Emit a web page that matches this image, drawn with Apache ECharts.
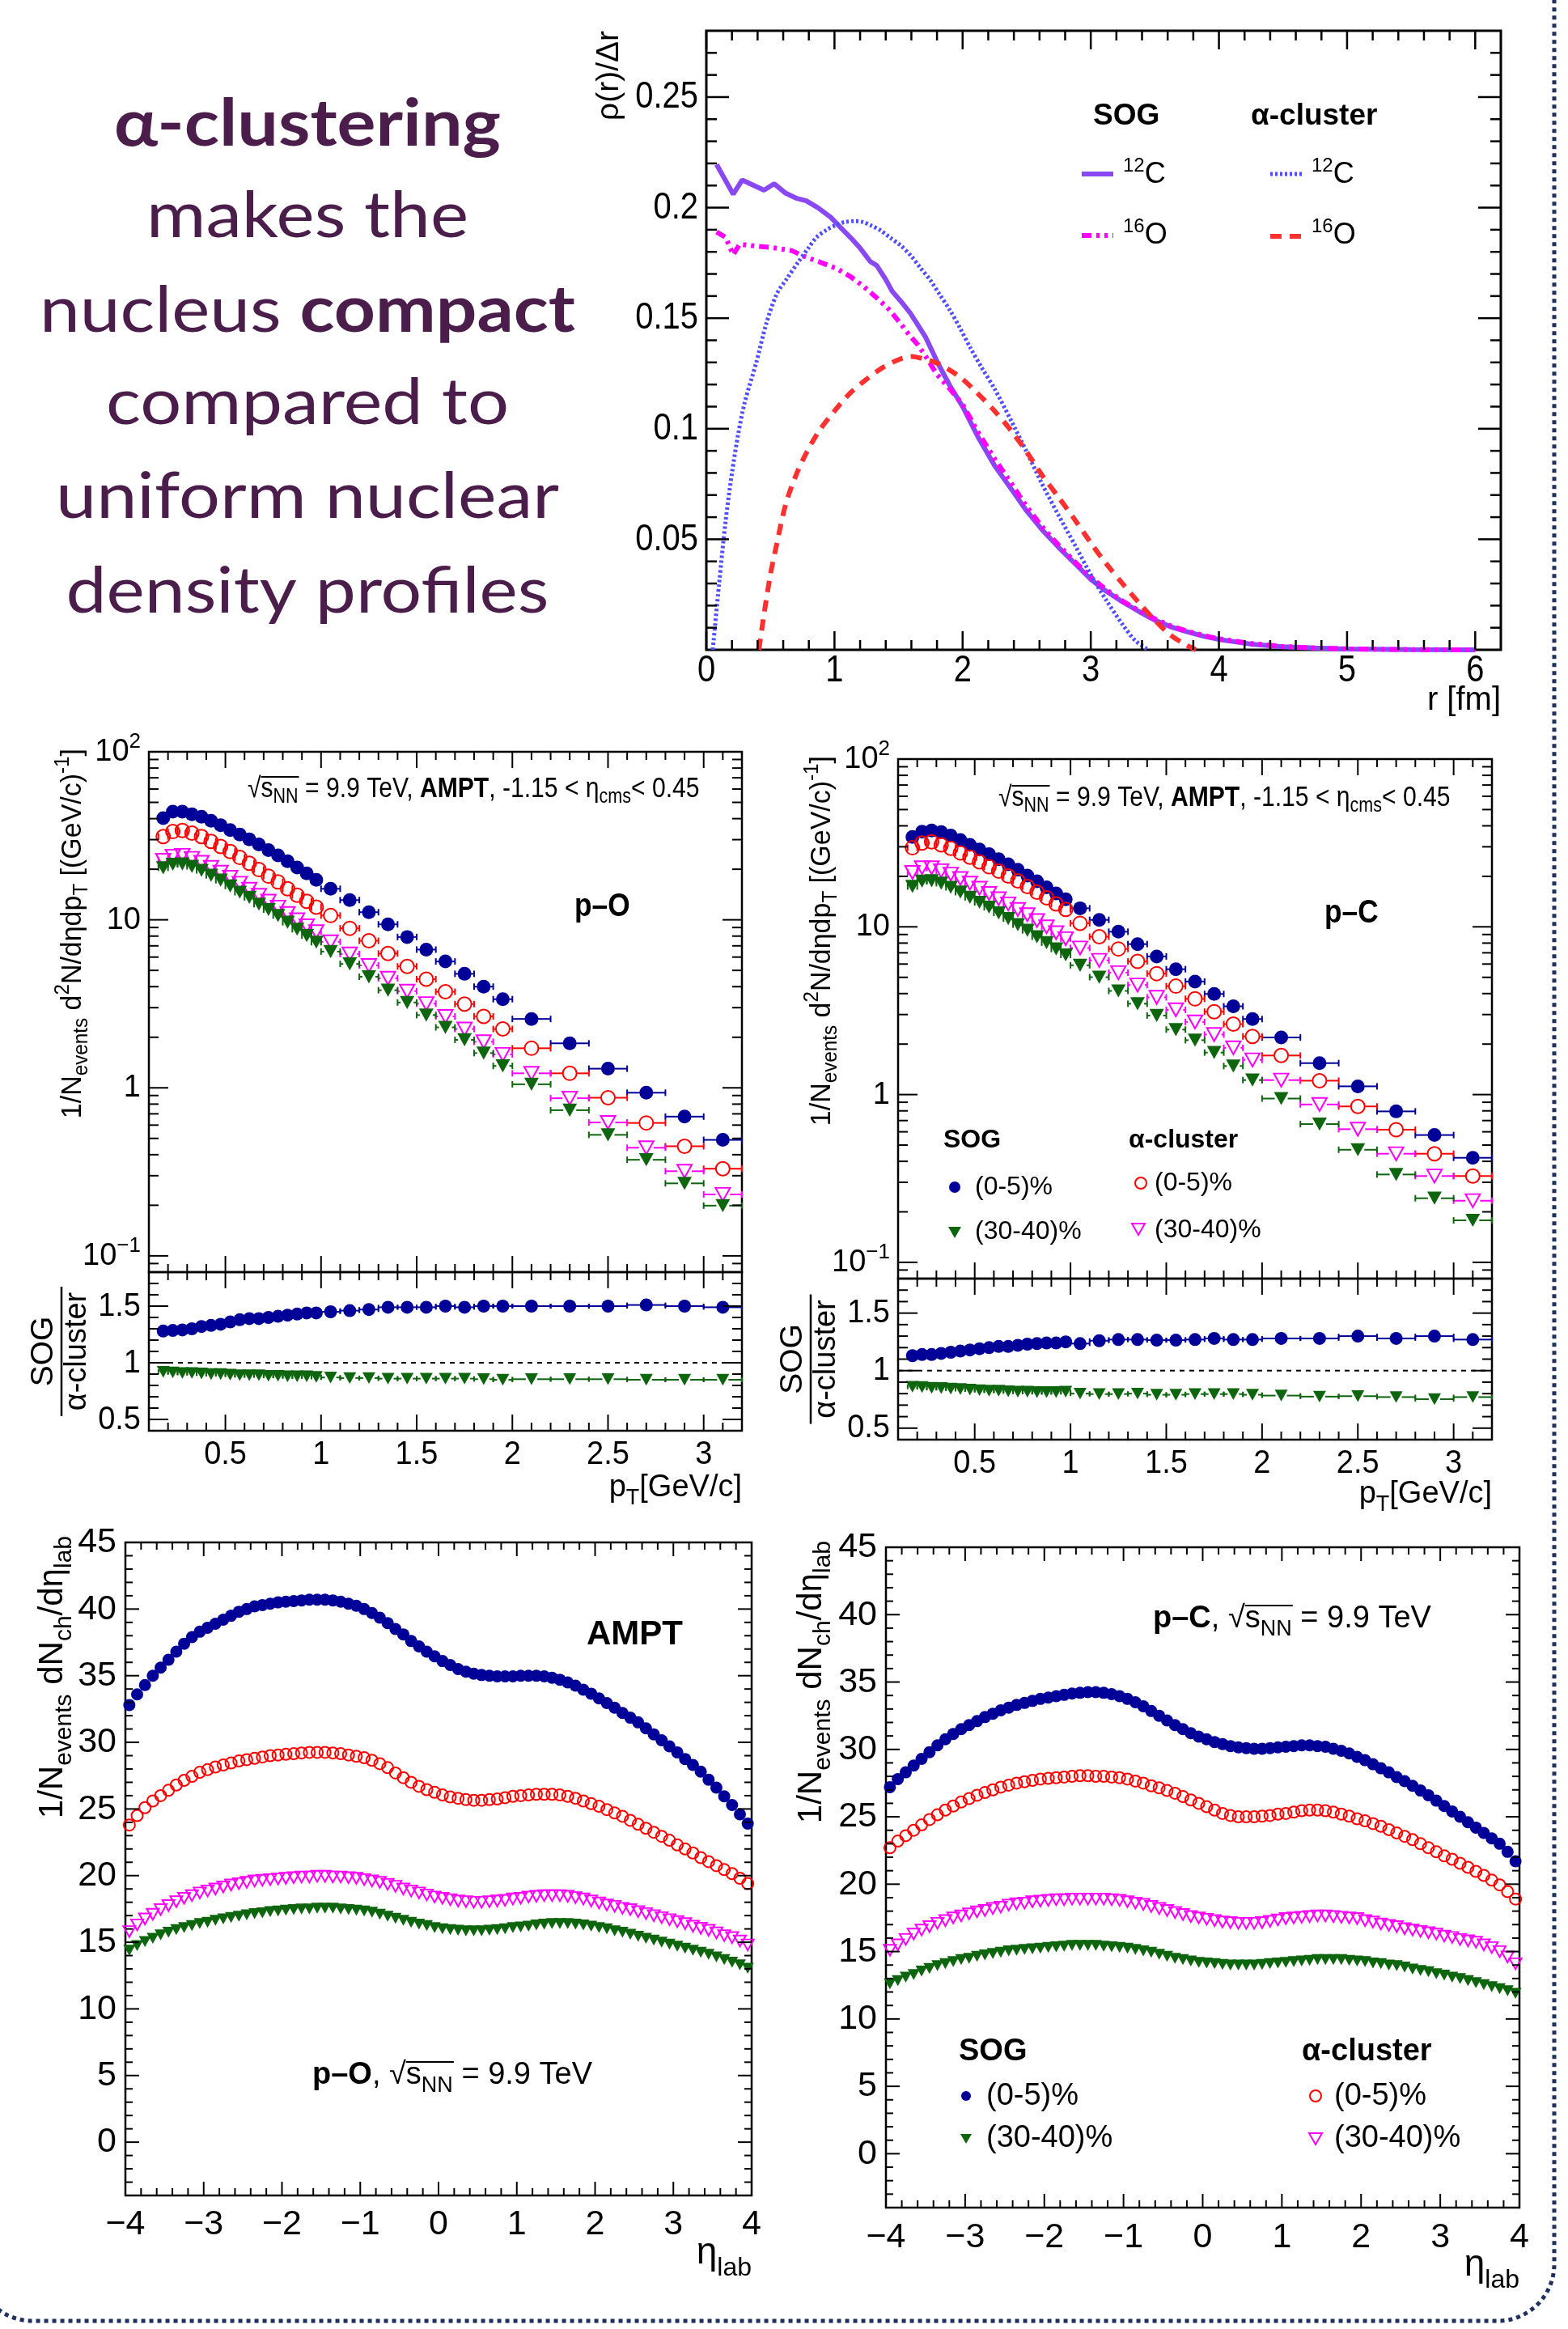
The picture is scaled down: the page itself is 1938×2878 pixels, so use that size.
<!DOCTYPE html>
<html><head><meta charset="utf-8">
<script src="https://cdn.jsdelivr.net/npm/echarts@6/dist/echarts.min.js"></script>
<style>html,body{margin:0;padding:0;background:#fff;}#chart{width:1938px;height:2878px;}</style>
</head><body><div id="chart"></div>
<script>
// ================= DATA =================
// --- Panel 1: radial density rho(r)/dr ---
const rSOG12C = [0.08,0.21,0.28,0.45,0.53,0.62,0.7,0.78,0.87,0.97,1.06,1.13,1.2,1.28,1.33,1.4,1.45,1.52,1.59,1.65,1.71,1.81,1.9,2.0,2.12,2.25,2.38,2.5,2.62,2.75,2.88,3.0,3.12,3.25,3.38,3.5,3.62,3.75,3.88,4.0,4.25,4.5,4.75,5.0,5.5,6.0];
const rhoSOG12C = [0.2195,0.2061,0.2125,0.2079,0.2108,0.2065,0.2043,0.2031,0.2000,0.1957,0.1903,0.1862,0.1817,0.1756,0.1738,0.1675,0.1622,0.1575,0.1524,0.1470,0.1415,0.1293,0.1195,0.1100,0.0963,0.0833,0.0727,0.0628,0.0543,0.0463,0.0388,0.0319,0.0265,0.0216,0.0172,0.0134,0.0105,0.0082,0.0062,0.0047,0.0026,0.0014,0.0008,0.0004,0.0001,0.0];
const rSOG16O = [0.08,0.15,0.21,0.26,0.4,0.5,0.6,0.67,0.76,0.88,1.01,1.12,1.22,1.32,1.43,1.51,1.58,1.65,1.71,1.8,1.9,2.0,2.12,2.25,2.38,2.5,2.62,2.75,2.88,3.0,3.12,3.25,3.38,3.5,3.62,3.75,3.88,4.0,4.25,4.5,4.75,5.0,5.5,6.0];
const rhoSOG16O = [0.189,0.1866,0.1787,0.1835,0.1825,0.182,0.1812,0.1805,0.178,0.1755,0.1726,0.169,0.1647,0.1597,0.1537,0.148,0.1427,0.138,0.1329,0.1245,0.118,0.111,0.0985,0.0864,0.0752,0.0648,0.0557,0.0473,0.0396,0.0329,0.0272,0.022,0.0176,0.014,0.0109,0.0085,0.0065,0.005,0.0029,0.0015,0.0008,0.0004,0.0001,0.0];
const rALPHA12C = [0.05,0.1,0.15,0.2,0.25,0.3,0.39,0.47,0.55,0.63,0.72,0.8,0.86,0.94,1.01,1.08,1.16,1.22,1.28,1.36,1.43,1.52,1.6,1.67,1.75,1.82,1.9,1.98,2.06,2.15,2.25,2.38,2.5,2.62,2.75,2.88,3.0,3.12,3.25,3.35,3.45];
const rhoALPHA12C = [0.0,0.030,0.058,0.080,0.098,0.112,0.130,0.148,0.161,0.168,0.1756,0.182,0.1866,0.190,0.1921,0.1935,0.1939,0.1935,0.1921,0.1897,0.1866,0.1827,0.178,0.1728,0.167,0.1608,0.1537,0.1455,0.1366,0.1275,0.118,0.1035,0.0895,0.075,0.0607,0.047,0.034,0.0225,0.0113,0.004,0.0];
const rALPHA16O = [0.41,0.45,0.5,0.55,0.62,0.7,0.78,0.88,1.0,1.12,1.25,1.38,1.5,1.6,1.7,1.8,1.9,2.0,2.12,2.25,2.38,2.5,2.62,2.75,2.88,3.0,3.12,3.25,3.38,3.5,3.62,3.75,3.82];
const rhoALPHA16O = [0.0,0.016,0.034,0.048,0.066,0.079,0.089,0.099,0.108,0.116,0.1224,0.1278,0.1312,0.1327,0.1315,0.1297,0.1265,0.1224,0.1158,0.108,0.099,0.0895,0.079,0.0689,0.0585,0.0484,0.039,0.0298,0.021,0.0134,0.0068,0.002,0.0];

// --- Panels 2/3: pT spectra (bin edges) ---
const ptEdges = [0.15,0.2,0.25,0.3,0.35,0.4,0.45,0.5,0.55,0.6,0.65,0.7,0.75,0.8,0.85,0.9,0.95,1.0,1.1,1.2,1.3,1.4,1.5,1.6,1.7,1.8,1.9,2.0,2.2,2.4,2.6,2.8,3.0,3.2];
const pO_SOG_0_5   = [40.3,44.0,44.0,42.5,41.1,38.9,36.6,34.2,32.2,30.1,28.1,26.0,24.2,22.3,20.5,18.9,17.3,15.3,13.1,11.1,9.4,7.9,6.65,5.65,4.77,4.0,3.37,2.57,1.84,1.30,0.935,0.674,0.490];
const pO_ALPHA_0_5 = [31.3,33.5,34.0,32.8,31.3,29.3,27.3,25.5,23.5,21.7,19.9,18.2,16.8,15.3,14.0,12.9,11.9,10.6,8.9,7.5,6.3,5.28,4.43,3.73,3.15,2.66,2.24,1.72,1.22,0.873,0.618,0.449,0.330];
const pO_SOG_30_40   = [20.4,21.4,21.5,20.8,19.7,18.4,17.2,15.9,14.6,13.6,12.4,11.5,10.6,9.67,8.79,8.05,7.36,6.47,5.46,4.58,3.81,3.22,2.71,2.29,1.93,1.61,1.35,1.05,0.736,0.525,0.373,0.270,0.199];
const pO_ALPHA_30_40 = [22.6,23.9,24.2,23.2,22.0,20.5,19.2,17.9,16.5,15.2,14.0,12.9,11.9,10.9,10.0,9.2,8.5,7.4,6.26,5.35,4.49,3.76,3.17,2.66,2.24,1.88,1.58,1.22,0.867,0.622,0.440,0.319,0.232];
const pO_RATIO_0_5   = [1.28,1.285,1.29,1.30,1.32,1.33,1.34,1.36,1.38,1.39,1.39,1.40,1.41,1.42,1.43,1.44,1.44,1.45,1.46,1.47,1.49,1.49,1.49,1.50,1.49,1.50,1.50,1.50,1.50,1.50,1.51,1.50,1.49];
const pO_RATIO_30_40 = [0.92,0.915,0.91,0.91,0.905,0.90,0.90,0.895,0.89,0.89,0.89,0.885,0.885,0.88,0.88,0.88,0.875,0.87,0.865,0.865,0.86,0.86,0.86,0.86,0.86,0.855,0.85,0.855,0.855,0.855,0.85,0.85,0.85];
const pC_SOG_0_5   = [34.3,36.9,37.5,36.7,35.0,32.9,30.8,28.9,27.1,25.3,23.6,21.9,20.2,18.7,17.2,15.8,14.6,12.9,11.0,9.35,7.89,6.66,5.59,4.72,3.98,3.36,2.82,2.19,1.54,1.12,0.794,0.574,0.42];
const pC_ALPHA_0_5 = [29.6,31.6,32.1,30.8,29.4,27.6,26.0,24.4,22.8,21.5,20.1,18.8,17.4,16.1,14.9,13.7,12.7,10.5,8.73,7.38,6.22,5.26,4.43,3.72,3.12,2.63,2.22,1.71,1.21,0.85,0.618,0.444,0.327];
const pC_SOG_30_40   = [17.4,18.7,18.8,18.2,17.2,16.1,15.0,14.0,13.1,12.1,11.2,10.3,9.53,8.73,8.05,7.38,6.80,5.90,5.01,4.15,3.48,2.96,2.44,2.11,1.78,1.48,1.22,0.947,0.667,0.469,0.334,0.241,0.178];
const pC_ALPHA_30_40 = [21.1,22.5,22.5,21.6,20.6,19.4,18.2,17.0,15.8,14.7,13.7,12.7,11.8,10.9,10.0,9.22,8.50,7.48,6.31,5.33,4.50,3.80,3.20,2.71,2.28,1.90,1.61,1.22,0.873,0.622,0.444,0.327,0.233];
const pC_RATIO_0_5   = [1.13,1.14,1.14,1.15,1.16,1.17,1.18,1.19,1.20,1.21,1.21,1.22,1.23,1.235,1.24,1.24,1.25,1.235,1.26,1.27,1.27,1.265,1.265,1.27,1.28,1.27,1.27,1.28,1.28,1.30,1.28,1.30,1.27];
const pC_RATIO_30_40 = [0.86,0.857,0.85,0.848,0.843,0.84,0.835,0.83,0.826,0.826,0.82,0.817,0.817,0.813,0.813,0.813,0.817,0.80,0.796,0.796,0.80,0.79,0.79,0.796,0.796,0.796,0.79,0.783,0.774,0.778,0.77,0.752,0.77];

// --- Panels 4/5: dNch/deta ---
const etaC = [-3.95,-3.85,-3.75,-3.65,-3.55,-3.45,-3.35,-3.25,-3.15,-3.05,-2.95,-2.85,-2.75,-2.65,-2.55,-2.45,-2.35,-2.25,-2.15,-2.05,-1.95,-1.85,-1.75,-1.65,-1.55,-1.45,-1.35,-1.25,-1.15,-1.05,-0.95,-0.85,-0.75,-0.65,-0.55,-0.45,-0.35,-0.25,-0.15,-0.05,0.05,0.15,0.25,0.35,0.45,0.55,0.65,0.75,0.85,0.95,1.05,1.15,1.25,1.35,1.45,1.55,1.65,1.75,1.85,1.95,2.05,2.15,2.25,2.35,2.45,2.55,2.65,2.75,2.85,2.95,3.05,3.15,3.25,3.35,3.45,3.55,3.65,3.75,3.85,3.95];
const pOeta_SOG_0_5 = [32.8,33.6,34.3,35.0,35.6,36.2,36.8,37.4,37.9,38.3, 38.6,38.9,39.2,39.5,39.8,40.0,40.2,40.3,40.4,40.5, 40.55,40.6,40.65,40.7,40.7,40.7,40.65,40.55,40.4,40.25, 40.0,39.7,39.35,38.95,38.5,38.1,37.6,37.2,36.8,36.45, 36.1,35.8,35.5,35.3,35.15,35.05,35.0,34.95,34.95,34.95, 35.0,35.0,35.0,34.95,34.85,34.7,34.5,34.25,33.95,33.65, 33.3,32.95,32.6,32.2,31.85,31.5,31.05,30.6,30.15,29.7, 29.25,28.75,28.3,27.8,27.2,26.6,25.95,25.3,24.6,23.9];
const pOeta_ALPHA_0_5 = [23.8,24.5,25.1,25.6,26.0,26.4,26.8,27.15,27.45,27.75, 27.95,28.15,28.3,28.45,28.6,28.7,28.8,28.9,29.0,29.05, 29.1,29.15,29.2,29.25,29.25,29.25,29.2,29.15,29.05,28.95, 28.85,28.65,28.4,28.1,27.7,27.35,27.0,26.7,26.45,26.25, 26.05,25.9,25.8,25.7,25.65,25.65,25.7,25.75,25.85,25.95, 26.0,26.05,26.1,26.1,26.1,26.05,25.95,25.8,25.6,25.4, 25.2,24.95,24.7,24.45,24.15,23.85,23.55,23.25,22.95,22.65, 22.3,22.0,21.7,21.35,21.05,20.75,20.45,20.15,19.8,19.4];
const pOeta_ALPHA_30_40 = [15.8,16.3,16.75,17.1,17.45,17.75,18.05,18.3,18.5,18.7, 18.85,19.0,19.15,19.3,19.4,19.5,19.6,19.65,19.7,19.75, 19.8,19.85,19.9,19.9,19.95,19.95,19.9,19.9,19.85,19.8, 19.7,19.6,19.5,19.35,19.2,19.0,18.85,18.7,18.55,18.4, 18.3,18.2,18.1,18.05,18.0,18.0,18.05,18.1,18.15,18.25, 18.3,18.4,18.45,18.5,18.5,18.5,18.45,18.35,18.25,18.1, 17.95,17.8,17.7,17.55,17.45,17.3,17.15,17.0,16.85,16.7, 16.55,16.4,16.2,16.05,15.9,15.7,15.5,15.35,15.1,14.8];
const pOeta_SOG_30_40 = [14.4,14.75,15.05,15.3,15.55,15.75,15.95,16.1,16.25,16.4, 16.5,16.65,16.75,16.85,16.95,17.05,17.15,17.2,17.3,17.35, 17.4,17.45,17.5,17.5,17.55,17.55,17.55,17.5,17.45,17.4, 17.35,17.25,17.1,16.95,16.8,16.65,16.5,16.35,16.25,16.1, 16.0,15.95,15.9,15.85,15.85,15.85,15.9,15.95,16.0,16.1, 16.15,16.2,16.3,16.35,16.4,16.4,16.4,16.35,16.3,16.2, 16.1,16.0,15.85,15.75,15.6,15.45,15.3,15.15,15.0,14.85, 14.7,14.55,14.4,14.25,14.1,13.9,13.7,13.5,13.3,13.05];
const pCeta_SOG_0_5 = [27.2,27.8,28.3,28.8,29.3,29.8,30.3,30.75,31.15,31.5, 31.8,32.1,32.4,32.65,32.9,33.1,33.3,33.45,33.6,33.75, 33.85,33.95,34.05,34.15,34.2,34.25,34.25,34.2,34.1,33.95, 33.75,33.5,33.2,32.85,32.5,32.15,31.8,31.5,31.2,30.95, 30.75,30.55,30.4,30.25,30.15,30.1,30.05,30.05,30.1,30.15, 30.2,30.25,30.3,30.3,30.25,30.2,30.05,29.9,29.7,29.45, 29.2,28.9,28.6,28.3,27.95,27.65,27.3,26.95,26.6,26.2, 25.8,25.4,25.0,24.6,24.2,23.8,23.4,23.0,22.4,21.7];
const pCeta_ALPHA_0_5 = [22.7,23.2,23.6,24.0,24.4,24.8,25.15,25.5,25.8,26.1, 26.35,26.6,26.8,27.0,27.2,27.35,27.5,27.6,27.7,27.8, 27.85,27.9,27.95,28.0,28.05,28.05,28.0,28.0,27.95,27.9, 27.8,27.65,27.5,27.3,27.15,26.95,26.75,26.5,26.25,26.0, 25.75,25.5,25.25,25.1,25.0,25.0,25.0,25.05,25.1,25.2, 25.25,25.35,25.45,25.5,25.5,25.45,25.35,25.2,25.05,24.85, 24.7,24.5,24.3,24.05,23.8,23.55,23.3,23.0,22.7,22.4, 22.1,21.85,21.55,21.25,20.95,20.65,20.3,19.95,19.45,18.9];
const pCeta_ALPHA_30_40 = [15.1,15.5,15.9,16.3,16.6,16.85,17.1,17.3,17.5,17.65, 17.8,17.95,18.05,18.2,18.3,18.45,18.55,18.6,18.7,18.75, 18.8,18.85,18.85,18.9,18.9,18.9,18.9,18.9,18.85,18.8, 18.7,18.6,18.5,18.35,18.2,18.05,17.9,17.75,17.6,17.5, 17.4,17.3,17.2,17.15,17.1,17.1,17.1,17.15,17.25,17.35, 17.45,17.5,17.55,17.6,17.65,17.65,17.6,17.55,17.5,17.45, 17.3,17.2,17.05,16.95,16.85,16.7,16.6,16.5,16.4,16.3, 16.15,16.05,15.9,15.8,15.7,15.5,15.3,15.0,14.6,14.1];
const pCeta_SOG_30_40 = [12.6,12.85,13.1,13.3,13.55,13.75,13.95,14.1,14.25,14.4, 14.5,14.65,14.75,14.85,14.95,15.05,15.1,15.15,15.2,15.25, 15.3,15.35,15.4,15.45,15.45,15.45,15.45,15.4,15.35,15.3, 15.25,15.15,15.05,14.95,14.8,14.65,14.5,14.4,14.3,14.2, 14.15,14.1,14.05,14.0,14.0,14.0,14.0,14.05,14.1,14.15, 14.2,14.25,14.3,14.35,14.4,14.4,14.4,14.4,14.35,14.3, 14.25,14.15,14.1,14.0,13.95,13.85,13.7,13.6,13.5,13.35, 13.25,13.1,13.0,12.85,12.7,12.55,12.4,12.25,12.1,11.9];

// --- tick values / labels ---
const rhoXTicks = [0,1,2,3,4,5,6];          const rhoXLabels = ['0','1','2','3','4','5','6'];
const rhoYTicks = [0.05,0.1,0.15,0.2,0.25]; const rhoYLabels = ['0.05','0.1','0.15','0.2','0.25'];
const ptTicks = [0.5,1,1.5,2,2.5,3];        const ptLabels = ['0.5','1','1.5','2','2.5','3'];
const logTicks = [0.1,1,10,100];            const logLabels = [['10','\u22121'],['1',''],['10',''],['10','2']];
const logMinorTicks = [0.09,0.2,0.3,0.4,0.5,0.6,0.7,0.8,0.9,2,3,4,5,6,7,8,9,20,30,40,50,60,70,80,90];
const ratioTicks = [0.5,1,1.5];             const ratioLabels = ['0.5','1','1.5'];
const ratioMinorTicks = [0.6,0.7,0.8,0.9,1.1,1.2,1.3,1.4,1.6,1.7];
const etaTicks = [-4,-3,-2,-1,0,1,2,3,4];   const etaLabels = ['\u22124','\u22123','\u22122','\u22121','0','1','2','3','4'];
const dnTicks = [0,5,10,15,20,25,30,35,40,45]; const dnLabels = ['0','5','10','15','20','25','30','35','40','45'];

// ================= HELPERS =================
const FONT = "'Liberation Sans', Arial, Helvetica, sans-serif";
const KMID = 0.3465;
const mctx = document.createElement('canvas').getContext('2d');
function tw(t, size, weight, fam) { mctx.font = weight + ' ' + size + 'px ' + fam; return mctx.measureText(t).width; }
function sg(t, s, o) { return Object.assign({ t: t, s: s }, o || {}); }
function rtext(segs, o) {
  const fam = o.fam || FONT;
  let x = 0; const kids = [];
  segs.forEach(g => {
    if (!g.t) return;
    const wt = g.b ? 'bold' : 'normal';
    const w = tw(g.t, g.s, wt, fam);
    kids.push({ type: 'text', x: x, y: (g.dy || 0) - KMID * g.s, silent: true,
      style: { text: g.t, font: wt + ' ' + g.s + 'px ' + fam, fill: g.c || o.color || '#000', align: 'left', verticalAlign: 'middle' } });
    if (g.ol) kids.push({ type: 'line', silent: true, shape: { x1: x, y1: -g.ol, x2: x + w + 1, y2: -g.ol }, style: { stroke: o.color || '#000', lineWidth: 2 } });
    x += w;
  });
  const off = o.align === 'center' ? -x / 2 : (o.align === 'right' ? -x : 0);
  kids.forEach(k => { if (k.type === 'text') k.x += off; else { k.shape.x1 += off; k.shape.x2 += off; } });
  return { type: 'group', x: o.x, y: o.y, rotation: o.rot || 0, scaleX: o.sx || 1, scaleY: o.sy || 1, children: kids, silent: true, z: 50 };
}
function steps(a, b, st, skipEvery) {
  const out = [];
  for (let i = 0; a + i * st <= b + 1e-9; i++) {
    const v = Math.round((a + i * st) * 1e6) / 1e6;
    if (skipEvery && Math.abs(v / skipEvery - Math.round(v / skipEvery)) < 1e-6) continue;
    out.push(v);
  }
  return out;
}
function decor(sp) {
  return {
    type: 'custom', xAxisIndex: sp.ax, yAxisIndex: sp.ax, silent: true, clip: false, z: 20,
    data: [[sp.x0, sp.y0]],
    renderItem: function (params, api) {
      const cs = params.coordSys;
      const L = cs.x, R = cs.x + cs.width, T = cs.y, B = cs.y + cs.height;
      const kids = [];
      const st = { stroke: '#000', lineWidth: sp.lw || 2 };
      const ln = (x1, y1, x2, y2) => kids.push({ type: 'line', shape: { x1: x1, y1: y1, x2: x2, y2: y2 }, style: st });
      const X = v => api.coord([v, sp.y0])[0];
      const Y = v => api.coord([sp.x0, v])[1];
      sp.xMaj.forEach(v => { const p = X(v); ln(p, B, p, B - sp.xL[0]); ln(p, T, p, T + sp.xL[0]); });
      sp.xMin.forEach(v => { const p = X(v); ln(p, B, p, B - sp.xL[1]); ln(p, T, p, T + sp.xL[1]); });
      sp.yMaj.forEach(v => { const p = Y(v); ln(L, p, L + sp.yL[0], p); ln(R, p, R - sp.yL[0], p); });
      sp.yMin.forEach(v => { const p = Y(v); ln(L, p, L + sp.yL[1], p); ln(R, p, R - sp.yL[1], p); });
      if (sp.xLab) sp.xLab.forEach(([v, segs]) => kids.push(rtext(segs, { x: X(v), y: B + sp.xOff, align: 'center', sy: sp.sy })));
      if (sp.yLab) sp.yLab.forEach(([v, segs]) => kids.push(rtext(segs, { x: L - sp.yOff, y: Y(v) + sp.ySh, align: 'right', sy: sp.sy })));
      return { type: 'group', children: kids };
    }
  };
}
function errBars(ax, xs, ys, lo, hi, color, half, cap) {
  return {
    type: 'custom', xAxisIndex: ax, yAxisIndex: ax, silent: true, z: 3,
    data: ys.map((y, i) => [xs[i], y, lo[i], hi[i]]),
    renderItem: function (params, api) {
      const c = api.coord([api.value(0), api.value(1)]);
      const l = api.coord([api.value(2), api.value(1)])[0];
      const h = api.coord([api.value(3), api.value(1)])[0];
      const st = { stroke: color, lineWidth: 2 };
      const k = [];
      if (c[0] - half > l) k.push({ type: 'line', shape: { x1: l, y1: c[1], x2: c[0] - half, y2: c[1] }, style: st });
      if (c[0] + half < h) k.push({ type: 'line', shape: { x1: c[0] + half, y1: c[1], x2: h, y2: c[1] }, style: st });
      k.push({ type: 'line', shape: { x1: l, y1: c[1] - cap, x2: l, y2: c[1] + cap }, style: st });
      k.push({ type: 'line', shape: { x1: h, y1: c[1] - cap, x2: h, y2: c[1] + cap }, style: st });
      return { type: 'group', children: k };
    }
  };
}
function marks(ax, xs, ys, kind, size, color) {
  const open = kind === 'oc' || kind === 'ot';
  const tri = kind === 'ft' || kind === 'ot';
  return {
    type: 'scatter', xAxisIndex: ax, yAxisIndex: ax, silent: true, z: 4,
    symbol: tri ? 'triangle' : 'circle', symbolRotate: tri ? 180 : 0,
    symbolSize: tri ? [size, size * 0.9] : size,
    data: xs.map((x, i) => [x, ys[i]]),
    itemStyle: open ? { color: 'rgba(255,255,255,0)', borderColor: color, borderWidth: 2, opacity: 1 } : { color: color, opacity: 1, borderWidth: 0 }
  };
}
function curve(xs, ys, color, width, dash, smooth) {
  return { type: 'line', xAxisIndex: 0, yAxisIndex: 0, silent: true, showSymbol: false, symbol: 'none', smooth: smooth || false, z: 3,
    data: xs.map((x, i) => [x, ys[i]]), lineStyle: { color: color, width: width, type: dash || 'solid', cap: 'butt' } };
}

// ================= COLORS =================
const C_SOG12 = '#8a48f2', C_A12 = '#4f4fff', C_SOG16 = '#ff00ff', C_A16 = '#ff3030';
const NAVY = '#000099', RED = '#ff0000', MAG = '#ff00ff', GRN = '#0d650d';
const TXT = '#4b1d4b';

// ================= BUILD =================
const ptC = ptEdges.slice(0, -1).map((e, i) => (e + ptEdges[i + 1]) / 2);
const ptLo = ptEdges.slice(0, -1), ptHi = ptEdges.slice(1);

const grids = [
  { left: 873, top: 38, width: 982, height: 765 },
  { left: 184, top: 929, width: 733, height: 643 },
  { left: 184, top: 1572, width: 733, height: 196 },
  { left: 1110, top: 938, width: 734, height: 642 },
  { left: 1110, top: 1580, width: 734, height: 199 },
  { left: 155, top: 1906, width: 774, height: 807 },
  { left: 1095, top: 1912, width: 783, height: 816 }
].map((g, i) => Object.assign({ show: true, borderColor: '#000', borderWidth: i === 0 ? 3 : 2.5, backgroundColor: 'rgba(0,0,0,0)', containLabel: false }, g));

const xAxes = [[0, 6.2], [0.1, 3.2], [0.1, 3.2], [0.1, 3.2], [0.1, 3.2], [-4, 4], [-4, 4]]
  .map((m, i) => ({ type: 'value', gridIndex: i, min: m[0], max: m[1], show: false }));
const yAxes = [
  { type: 'value', min: 0, max: 0.28 },
  { type: 'log', logBase: 10, min: 0.08, max: 100 },
  { type: 'value', min: 0.4, max: 1.8 },
  { type: 'log', logBase: 10, min: 0.08, max: 100 },
  { type: 'value', min: 0.4, max: 1.8 },
  { type: 'value', min: -4, max: 45 },
  { type: 'value', min: -4, max: 45 }
].map((a, i) => Object.assign({ gridIndex: i, show: false }, a));

const lab = (vals, labs, size) => vals.map((v, i) => [v, [sg(labs[i], size)]]);
const logLab = logTicks.map((v, i) => [v, [sg(logLabels[i][0], 38), sg(logLabels[i][1], 26, { dy: -17 })]]);

const series = [];
// panel 1 curves
series.push(curve(rSOG12C, rhoSOG12C, C_SOG12, 6, 'solid'));
series.push(curve(rSOG16O, rhoSOG16O, C_SOG16, 6, [12, 6, 4, 6, 4, 6]));
series.push(curve(rALPHA12C, rhoALPHA12C, C_A12, 5, [3, 3], 0.3));
series.push(curve(rALPHA16O, rhoALPHA16O, C_A16, 6, [14, 10], 0.3));
series.push(decor({ ax: 0, x0: 0, y0: 0, xMaj: rhoXTicks, xMin: steps(0.2, 6.0, 0.2, 1), xL: [23, 12],
  yMaj: rhoYTicks, yMin: steps(0.01, 0.27, 0.01, 0.05), yL: [28, 13], lw: 2.5,
  xLab: lab(rhoXTicks, rhoXLabels, 40), xOff: 42, yLab: lab(rhoYTicks, rhoYLabels, 40), yOff: 10, ySh: 16.5, sy: 1.15 }));

// pT panels
function ptPanel(axM, axR, s05, a05, s3040, a3040, r05, r3040) {
  series.push(errBars(axM, ptC, s05, ptLo, ptHi, NAVY, 8, 4));
  series.push(errBars(axM, ptC, a05, ptLo, ptHi, RED, 9, 4));
  series.push(errBars(axM, ptC, a3040, ptLo, ptHi, MAG, 9, 4));
  series.push(errBars(axM, ptC, s3040, ptLo, ptHi, GRN, 8, 4));
  series.push(marks(axM, ptC, s05, 'fc', 17, NAVY));
  series.push(marks(axM, ptC, a05, 'oc', 17, RED));
  series.push(marks(axM, ptC, a3040, 'ot', 18, MAG));
  series.push(marks(axM, ptC, s3040, 'ft', 18, GRN));
  series.push({ type: 'line', xAxisIndex: axR, yAxisIndex: axR, silent: true, symbol: 'none', z: 2,
    data: [[0.1, 1], [3.2, 1]], lineStyle: { color: '#000', width: 2, type: [6, 6] } });
  series.push(errBars(axR, ptC, r05, ptLo, ptHi, NAVY, 7, 3));
  series.push(errBars(axR, ptC, r3040, ptLo, ptHi, GRN, 7, 3));
  series.push(marks(axR, ptC, r05, 'fc', 16, NAVY));
  series.push(marks(axR, ptC, r3040, 'ft', 16, GRN));
  series.push(decor({ ax: axM, x0: 0.1, y0: 0.08, xMaj: ptTicks, xMin: steps(0.2, 3.1, 0.1, 0.5), xL: [20, 10],
    yMaj: logTicks, yMin: logMinorTicks, yL: [24, 12], yLab: logLab, yOff: 10, ySh: 13.6, sy: 1 }));
  series.push(decor({ ax: axR, x0: 0.1, y0: 0.4, xMaj: ptTicks, xMin: steps(0.2, 3.1, 0.1, 0.5), xL: [20, 10],
    yMaj: ratioTicks, yMin: ratioMinorTicks, yL: [24, 12], xLab: lab(ptTicks, ptLabels, 38), xOff: 44,
    yLab: lab(ratioTicks, ratioLabels, 38), yOff: 10, ySh: 14.5, sy: 1.08 }));
}
ptPanel(1, 2, pO_SOG_0_5, pO_ALPHA_0_5, pO_SOG_30_40, pO_ALPHA_30_40, pO_RATIO_0_5, pO_RATIO_30_40);
ptPanel(3, 4, pC_SOG_0_5, pC_ALPHA_0_5, pC_SOG_30_40, pC_ALPHA_30_40, pC_RATIO_0_5, pC_RATIO_30_40);

// eta panels
function etaPanel(ax, s05, a05, s3040, a3040, xOff) {
  series.push(marks(ax, etaC, s05, 'fc', 15, NAVY));
  series.push(marks(ax, etaC, a05, 'oc', 14, RED));
  series.push(marks(ax, etaC, a3040, 'ot', 15, MAG));
  series.push(marks(ax, etaC, s3040, 'ft', 15, GRN));
  series.push(decor({ ax: ax, x0: -4, y0: 0, xMaj: etaTicks, xMin: steps(-3.8, 3.8, 0.2, 1), xL: [17, 9],
    yMaj: dnTicks, yMin: steps(-3, 44, 1, 5), yL: [17, 9], xLab: lab(etaTicks, etaLabels, 43), xOff: xOff,
    yLab: lab(dnTicks, dnLabels, 43), yOff: 11, ySh: 15.4, sy: 1 }));
}
etaPanel(5, pOeta_SOG_0_5, pOeta_ALPHA_0_5, pOeta_SOG_30_40, pOeta_ALPHA_30_40, 51);
etaPanel(6, pCeta_SOG_0_5, pCeta_ALPHA_0_5, pCeta_SOG_30_40, pCeta_ALPHA_30_40, 52);

// ================= GRAPHICS (texts, legends) =================
const R90 = Math.PI / 2;
const G = [];
// dotted slide border
G.push({ type: 'rect', silent: true, z: 1, shape: { x: -30, y: -100, width: 1951, height: 2968, r: 70 },
  style: { fill: 'none', stroke: '#1f2f5e', lineWidth: 5, lineDash: [5, 5] } });
// intro text
const introLines = [
  [{ t: 'α-clustering', b: true }], [{ t: 'makes the' }], [{ t: 'nucleus ' }, { t: 'compact', b: true }],
  [{ t: 'compared to' }], [{ t: 'uniform nuclear' }], [{ t: 'density profiles' }]
];
const introW = [478, 398, 662, 498, 622, 597], introBase = [182, 295, 412, 526, 642, 759];
const LATO = "Lato, 'Open Sans', sans-serif";
introLines.forEach((ln, i) => {
  const segs = ln.map(p => sg(p.t, 80, { b: p.b }));
  let w = 0; segs.forEach(s => w += tw(s.t, 80, s.b ? 'bold' : 'normal', LATO));
  G.push(rtext(segs, { x: 380, y: introBase[i], align: 'center', fam: LATO, color: TXT, sx: introW[i] / w }));
});
// panel 1 titles + legend
G.push(rtext([sg('ρ(r)/Δr', 39)], { x: 767, y: 38, align: 'right', rot: R90 }));
G.push(rtext([sg('r [fm]', 40)], { x: 1855, y: 880, align: 'right' }));
G.push(rtext([sg('SOG', 37, { b: true })], { x: 1351, y: 157 }));
G.push(rtext([sg('α-cluster', 37, { b: true })], { x: 1546, y: 157 }));
const legLine = (x1, x2, y, color, w, dash) => G.push({ type: 'line', silent: true, z: 50, shape: { x1: x1, y1: y, x2: x2, y2: y }, style: { stroke: color, lineWidth: w, lineDash: dash } });
legLine(1337, 1376, 215, C_SOG12, 6, null);
legLine(1570, 1611, 215, C_A12, 5, [3, 3]);
legLine(1337, 1376, 291, C_SOG16, 6, [12, 6, 4, 6, 4, 6]);
legLine(1570, 1611, 292, C_A16, 6, [14, 10]);
G.push(rtext([sg('12', 24, { dy: -15 }), sg('C', 36)], { x: 1388, y: 229 }));
G.push(rtext([sg('12', 24, { dy: -15 }), sg('C', 36)], { x: 1621, y: 229 }));
G.push(rtext([sg('16', 24, { dy: -15 }), sg('O', 36)], { x: 1388, y: 304 }));
G.push(rtext([sg('16', 24, { dy: -15 }), sg('O', 36)], { x: 1621, y: 304 }));

// pT panel titles
function ptTitles(L, T, R, B, RB, xBase, tag, tagX, tagY, hdrX, hdrY) {
  const S = 35, s = 25;
  G.push(rtext([sg('1/N', S), sg('events', s, { dy: 8 }), sg(' d', S), sg('2', s, { dy: -15 }), sg('N/dηdp', S), sg('T', s, { dy: 8 }),
    sg(' [(GeV/c)', S), sg('-1', s, { dy: -15 }), sg(']', S)], { x: L - 82, y: T - 4, align: 'right', rot: R90, sx: 0.97 }));
  const cy = (B + RB) / 2;
  G.push(rtext([sg('SOG', 39)], { x: L - 116, y: cy, align: 'center', rot: R90 }));
  G.push(rtext([sg('α-cluster', 38)], { x: L - 75, y: cy, align: 'center', rot: R90 }));
  G.push({ type: 'line', silent: true, z: 50, shape: { x1: L - 108, y1: cy - 80, x2: L - 108, y2: cy + 80 }, style: { stroke: '#000', lineWidth: 2.5 } });
  G.push(rtext([sg('p', 38), sg('T', 27, { dy: 9 }), sg('[GeV/c]', 38)], { x: R, y: xBase, align: 'right' }));
  G.push(rtext([sg(tag, 41, { b: true })], { x: tagX, y: tagY, sx: 0.86 }));
  G.push(rtext([sg('√', S), sg('s', S, { ol: 27 }), sg('NN', s, { dy: 7, ol: 27 }), sg(' = 9.9 TeV, ', S), sg('AMPT', S, { b: true }),
    sg(', -1.15 < η', S), sg('cms', s, { dy: 7 }), sg('< 0.45', S)], { x: hdrX, y: hdrY, sx: 0.86 }));
}
ptTitles(184, 929, 917, 1572, 1768, 1852, 'p–O', 710, 1135, 306, 987);
ptTitles(1110, 938, 1844, 1580, 1779, 1860, 'p–C', 1637, 1143, 1234, 998);
// p-C legend
G.push(rtext([sg('SOG', 32, { b: true })], { x: 1166, y: 1420 }));
G.push(rtext([sg('α-cluster', 32, { b: true })], { x: 1395, y: 1420 }));
G.push({ type: 'circle', silent: true, z: 50, shape: { cx: 1180, cy: 1467, r: 7 }, style: { fill: NAVY } });
G.push({ type: 'polygon', silent: true, z: 50, shape: { points: [[1172, 1516], [1188, 1516], [1180, 1530]] }, style: { fill: GRN } });
G.push({ type: 'circle', silent: true, z: 50, shape: { cx: 1410, cy: 1462, r: 7 }, style: { fill: 'none', stroke: RED, lineWidth: 2 } });
G.push({ type: 'polygon', silent: true, z: 50, shape: { points: [[1399, 1512], [1415, 1512], [1407, 1526]] }, style: { fill: 'none', stroke: MAG, lineWidth: 2 } });
G.push(rtext([sg('(0-5)%', 32)], { x: 1205, y: 1478 }));
G.push(rtext([sg('(30-40)%', 32)], { x: 1205, y: 1533 }));
G.push(rtext([sg('(0-5)%', 32)], { x: 1427, y: 1473 }));
G.push(rtext([sg('(30-40)%', 32)], { x: 1427, y: 1531 }));

// eta panel titles
function etaTitles(L, T, R, ybase, xbase) {
  G.push(rtext([sg('1/N', 42), sg('events', 30, { dy: 10 }), sg(' dN', 42), sg('ch', 30, { dy: 10 }), sg('/dη', 42), sg('lab', 30, { dy: 10 })],
    { x: xbase, y: T - 8, align: 'right', rot: R90 }));
  G.push(rtext([sg('η', 46), sg('lab', 32, { dy: 14 })], { x: R, y: ybase, align: 'right' }));
}
etaTitles(155, 1906, 929, 2800, 80);
etaTitles(1095, 1912, 1878, 2815, 1018);
G.push(rtext([sg('AMPT', 42, { b: true })], { x: 725, y: 2035 }));
const sqrtTxt = (tag) => [sg(tag, 38, { b: true }), sg(', ', 38), sg('√', 38), sg('s', 38, { ol: 30 }), sg('NN', 27, { dy: 9, ol: 30 }), sg(' = 9.9 TeV', 38)];
G.push(rtext(sqrtTxt('p–O'), { x: 386, y: 2578 }));
G.push(rtext(sqrtTxt('p–C'), { x: 1425, y: 2014 }));
// eta p-C legend
G.push(rtext([sg('SOG', 38, { b: true })], { x: 1185, y: 2549 }));
G.push(rtext([sg('α-cluster', 38, { b: true })], { x: 1609, y: 2549 }));
G.push({ type: 'circle', silent: true, z: 50, shape: { cx: 1194, cy: 2590, r: 6 }, style: { fill: NAVY } });
G.push({ type: 'polygon', silent: true, z: 50, shape: { points: [[1187, 2637], [1201, 2637], [1194, 2649]] }, style: { fill: GRN } });
G.push({ type: 'circle', silent: true, z: 50, shape: { cx: 1626, cy: 2590, r: 7 }, style: { fill: 'none', stroke: RED, lineWidth: 2 } });
G.push({ type: 'polygon', silent: true, z: 50, shape: { points: [[1618, 2636], [1634, 2636], [1626, 2650]] }, style: { fill: 'none', stroke: MAG, lineWidth: 2 } });
G.push(rtext([sg('(0-5)%', 38)], { x: 1219, y: 2604 }));
G.push(rtext([sg('(30-40)%', 38)], { x: 1219, y: 2656 }));
G.push(rtext([sg('(0-5)%', 38)], { x: 1649, y: 2604 }));
G.push(rtext([sg('(30-40)%', 38)], { x: 1649, y: 2656 }));

const chart = echarts.init(document.getElementById('chart'), null, { renderer: 'canvas', width: 1938, height: 2878 });
chart.setOption({
  backgroundColor: '#ffffff', animation: false,
  grid: grids, xAxis: xAxes, yAxis: yAxes, series: series,
  graphic: { elements: G }
});
</script></body></html>
